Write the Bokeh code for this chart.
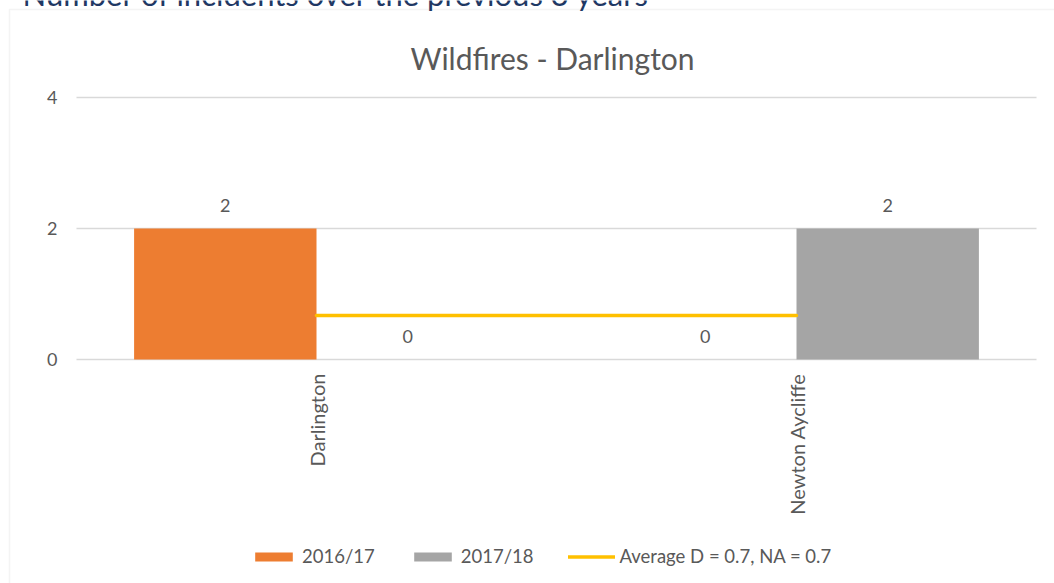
import math
from bokeh.plotting import figure
from bokeh.models import (ColumnDataSource, Range1d, Label, LabelSet, Legend, LegendItem,
                          BoxAnnotation)
from bokeh.embed import file_html
from bokeh.resources import INLINE
from bokeh.core.properties import value

# ---- data ----
categories = ["Darlington", "Newton Aycliffe"]
series_names = ["2016/17", "2017/18"]
values_2016_17 = [2, 0]
values_2017_18 = [0, 2]
average_values = [0.67, 0.67]
average_label = "Average D = 0.7, NA = 0.7"
y_ticks = [0, 2, 4]
chart_title = "Wildfires - Darlington"
page_heading = "Number of incidents over the previous 3 years"

# ---- style / layout constants ----
FONT = "Lato"
TXT = "#595959"
GRID = "#D9D9D9"
C1, C2, C3 = "#ED7D31", "#A5A5A5", "#FFC000"
W, H = 1054, 583
PL, PR, PT, PB = 76, 1036, 97, 359      # plot area edges (px)
n = len(categories)
ymax = max(y_ticks)
px_x = (PR - PL) / n                    # px per category
px_y = (PB - PT) / ymax                 # px per unit

p = figure(width=W, height=H,
           x_range=Range1d(-PL / px_x, n + (W - PR) / px_x),
           y_range=Range1d(-(H - PB) / px_y, ymax + PT / px_y),
           x_axis_location=None, y_axis_location=None,
           output_backend="svg", toolbar_location=None,
           min_border=0, outline_line_color=None,
           background_fill_color="white", border_fill_color="white")
p.xgrid.visible = False
p.ygrid.visible = False

centers = [i + 0.5 for i in range(n)]
off, bw = 0.19, 0.38

# gridlines at the y ticks
p.segment(x0=[0] * len(y_ticks), x1=[n] * len(y_ticks), y0=y_ticks, y1=y_ticks,
          line_color=GRID, line_width=1.5)

src = ColumnDataSource(dict(
    xc=centers,
    xa=[c - off for c in centers],
    xb=[c + off for c in centers],
    a=values_2016_17,
    b=values_2017_18,
    avg=average_values,
    la=[str(v) for v in values_2016_17],
    lb=[str(v) for v in values_2017_18],
    cat=categories,
    zero=[0] * n,
))

r1 = p.vbar(x="xa", top="a", width=bw, source=src, fill_color=C1, line_color=None)
r2 = p.vbar(x="xb", top="b", width=bw, source=src, fill_color=C2, line_color=None)
r3 = p.line(x="xc", y="avg", source=src, line_color=C3, line_width=3.5, line_cap="round")

# data labels
for xf, yf, lab in (("xa", "a", "la"), ("xb", "b", "lb")):
    p.add_layout(LabelSet(x=xf, y=yf, text=lab, source=src, y_offset=23,
                          text_align="center", text_baseline="middle",
                          text_font=value(FONT), text_font_size="18px", text_color=TXT))

# y tick labels
tsrc = ColumnDataSource(dict(x=[0] * len(y_ticks), y=y_ticks, t=[str(t) for t in y_ticks]))
p.add_layout(LabelSet(x="x", y="y", text="t", source=tsrc, x_offset=-19,
                      text_align="right", text_baseline="middle",
                      text_font=value(FONT), text_font_size="18px", text_color=TXT))

# category labels (rotated, reading upward)
p.add_layout(LabelSet(x="xc", y="zero", text="cat", source=src, y_offset=-14,
                      angle=math.pi / 2, text_align="right", text_baseline="middle",
                      text_font=value(FONT), text_font_size="20px", text_color=TXT))

# chart border
p.add_layout(BoxAnnotation(left=9, right=W + 20, top=H - 9, bottom=-20,
                           left_units="screen", right_units="screen",
                           top_units="screen", bottom_units="screen",
                           fill_alpha=0, line_color=GRID, line_width=1.5, level="underlay"))

# titles
p.add_layout(Label(x=552, y=H - 57, x_units="screen", y_units="screen",
                   text=chart_title, text_align="center", text_baseline="middle",
                   text_font=FONT, text_font_size="30px", text_color=TXT))
p.add_layout(Label(x=22, y=H + 7, x_units="screen", y_units="screen",
                   text=page_heading, text_align="left", text_baseline="alphabetic",
                   text_font=FONT, text_font_size="31px", text_color="#1F3864"))

legend = Legend(items=[LegendItem(label=series_names[0], renderers=[r1]),
                       LegendItem(label=series_names[1], renderers=[r2]),
                       LegendItem(label=average_label, renderers=[r3])],
                orientation="horizontal", location=(250, H - 567),
                padding=0, margin=0, spacing=34, label_standoff=5,
                glyph_width=47, glyph_height=11, label_height=20,
                label_text_font=FONT, label_text_font_size="18.5px", label_text_color=TXT,
                border_line_color=None, background_fill_alpha=0)
p.add_layout(legend)

open("out.html", "w").write(file_html(p, INLINE))
